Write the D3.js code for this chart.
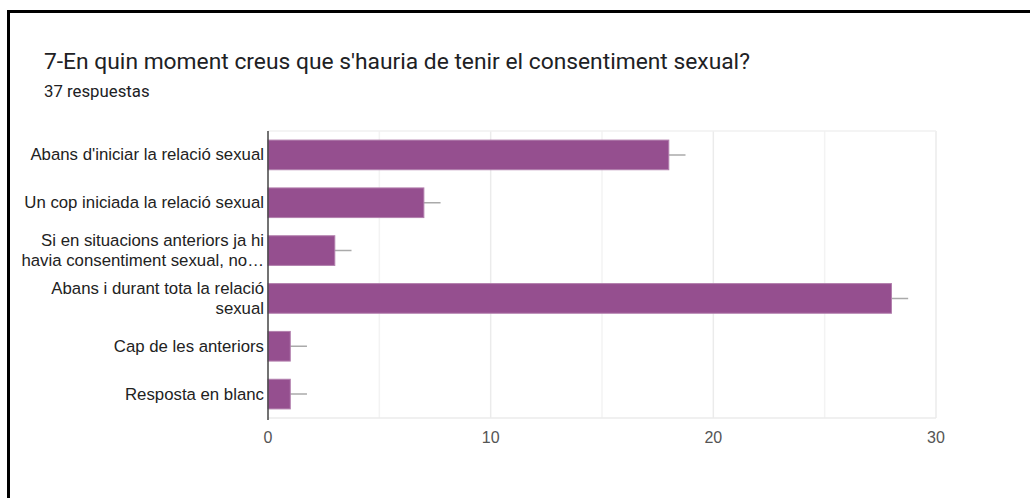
<!DOCTYPE html>
<html>
<head>
<meta charset="utf-8">
<script src="https://cdn.jsdelivr.net/npm/d3@7"></script>
<style>
  body { margin: 0; background: #fff; }
  svg { display: block; }
</style>
</head>
<body>
<svg id="chart" width="1030" height="498"></svg>
<script>
// data
var categories = [
  ["Abans d'iniciar la relació sexual"],
  ["Un cop iniciada la relació sexual"],
  ["Si en situacions anteriors ja hi", "havia consentiment sexual, no…"],
  ["Abans i durant tota la relació", "sexual"],
  ["Cap de les anteriors"],
  ["Resposta en blanc"]
];
var counts = [18, 7, 3, 28, 1, 1];
var errors = [0.75, 0.75, 0.75, 0.75, 0.75, 0.75];
var xTicks = [0, 10, 20, 30];
var gridTicks = [5, 10, 15, 20, 25, 30];

var title = "7-En quin moment creus que s'hauria de tenir el consentiment sexual?";
var subtitle = "37 respuestas";

var svg = d3.select("#chart");

// frame (only top and left edges show)
svg.append("rect").attr("x", 7).attr("y", 10).attr("width", 1030).attr("height", 3).attr("fill", "#000");
svg.append("rect").attr("x", 7).attr("y", 10).attr("width", 3).attr("height", 498).attr("fill", "#000");

svg.append("text")
  .attr("x", 44).attr("y", 69)
  .style("font-family", "Roboto")
  .style("font-size", "22.8px")
  .attr("fill", "#202124")
  .text(title);

svg.append("text")
  .attr("x", 44).attr("y", 97)
  .style("font-family", "Roboto")
  .style("font-size", "16.8px")
  .attr("fill", "#202124")
  .text(subtitle);

var pLeft = 268, pRight = 936, pTop = 131, pBottom = 418;

var x = d3.scaleLinear().domain([0, 30]).range([pLeft, pRight]);
var y = d3.scaleBand()
  .domain(d3.range(categories.length))
  .range([pTop, pBottom])
  .paddingInner(0.38)
  .paddingOuter(0.19);

// grid
svg.append("g")
  .selectAll("line")
  .data(gridTicks)
  .enter()
  .append("line")
  .attr("x1", function (d) { return x(d); })
  .attr("x2", function (d) { return x(d); })
  .attr("y1", pTop).attr("y2", pBottom)
  .attr("stroke", function (d) { return d % 10 === 0 ? "#ebebeb" : "#f3f3f3"; })
  .attr("stroke-width", 1.5);

svg.append("line")
  .attr("x1", pLeft).attr("x2", pRight)
  .attr("y1", pTop).attr("y2", pTop)
  .attr("stroke", "#f0f0f0").attr("stroke-width", 1.5);
svg.append("line")
  .attr("x1", pLeft).attr("x2", pRight)
  .attr("y1", pBottom).attr("y2", pBottom)
  .attr("stroke", "#ebebeb").attr("stroke-width", 1.5);

// error bars
svg.append("g")
  .selectAll("line")
  .data(counts)
  .enter()
  .append("line")
  .attr("x1", function (d, i) { return x(d - errors[i]); })
  .attr("x2", function (d, i) { return x(d + errors[i]); })
  .attr("y1", function (d, i) { return y(i) + y.bandwidth() / 2; })
  .attr("y2", function (d, i) { return y(i) + y.bandwidth() / 2; })
  .attr("stroke", "#aaaaaa")
  .attr("stroke-width", 1.5);

// bars
svg.append("g")
  .selectAll("rect")
  .data(counts)
  .enter()
  .append("rect")
  .attr("x", x(0))
  .attr("y", function (d, i) { return y(i); })
  .attr("width", function (d) { return x(d) - x(0); })
  .attr("height", y.bandwidth())
  .attr("fill", "#954f8f")
  .attr("stroke", "#b27fad")
  .attr("stroke-width", 1);

// baseline axis
svg.append("line")
  .attr("x1", pLeft).attr("x2", pLeft)
  .attr("y1", pTop).attr("y2", pBottom + 2)
  .attr("stroke", "#444").attr("stroke-width", 1.5);

// x tick labels
svg.append("g")
  .selectAll("text")
  .data(xTicks)
  .enter()
  .append("text")
  .attr("x", function (d) { return x(d); })
  .attr("y", 443)
  .attr("text-anchor", "middle")
  .style("font-family", "Liberation Sans, Arial")
  .style("font-size", "16px")
  .attr("fill", "#555")
  .text(function (d) { return d; });

// category labels
var labels = svg.append("g")
  .selectAll("text")
  .data(categories)
  .enter()
  .append("text")
  .attr("text-anchor", "end")
  .style("font-family", "Liberation Sans, Arial")
  .style("font-size", "16.8px")
  .attr("fill", "#222");

labels.each(function (lines, i) {
  var cy = y(i) + y.bandwidth() / 2;
  var lh = 20;
  var start = cy - (lines.length - 1) * lh / 2 + 5.5;
  d3.select(this)
    .selectAll("tspan")
    .data(lines)
    .enter()
    .append("tspan")
    .attr("x", 264)
    .attr("y", function (d, j) { return start + j * lh; })
    .text(function (d) { return d; });
});
</script>
</body>
</html>
